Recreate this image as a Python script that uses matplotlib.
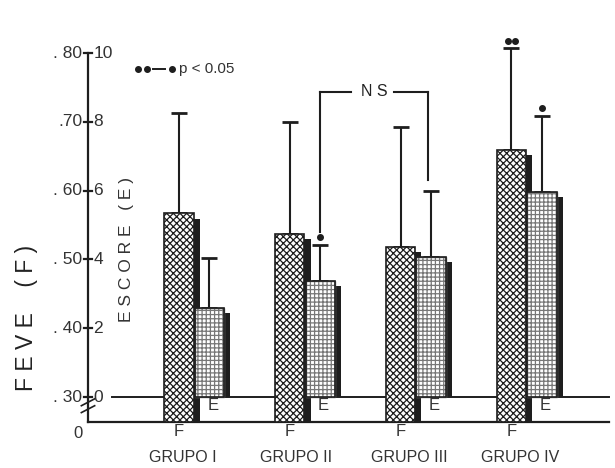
import numpy as np
import matplotlib
matplotlib.use('Agg')
import matplotlib.pyplot as plt

plt.rcParams['font.family'] = ['Liberation Sans', 'DejaVu Sans']
plt.rcParams['hatch.linewidth'] = 0.9

grupos = ['GRUPO I', 'GRUPO II', 'GRUPO III', 'GRUPO IV']
# FEVE (F) - media y desviacion
feve = [0.567, 0.537, 0.518, 0.659]
feve_err = [0.146, 0.163, 0.174, 0.148]
# ESCORE (E)
escore = [2.59, 3.37, 4.07, 5.96]
escore_err = [1.45, 1.05, 1.92, 2.21]
# significancia (numero de puntos)
sig_f = [0, 0, 0, 2]
sig_e = [0, 1, 0, 1]

e_ticks = [0, 2, 4, 6, 8, 10]
f_ticks = ['. 30', '. 40', '. 50', '. 60', '.70', '. 80']

# F pasa a la escala de E
feve_e = [(v - 0.30) / 0.05 for v in feve]
feve_err_e = [v / 0.05 for v in feve_err]

ink = '#1e1e1e'
bg = '#ebebeb'

fig = plt.figure(figsize=(6.15, 4.68), dpi=100)
fig.patch.set_facecolor('white')
ax = fig.add_axes([12 / 615, 0, 1 - 12 / 615, 1 - 10 / 468])
ax.set_facecolor(bg)
ax.set_xlim(-1.507, 3.935)
ax.set_ylim(-2.06, 11.25)
ax.axis('off')

x = np.arange(len(grupos))
w = 0.265
off = 0.275
bottom_y = -0.73
sh = 0.055

# ejes
ax_x = -0.821
ax.plot([ax_x, ax_x], [bottom_y, 10], color=ink, lw=1.6)
ax.plot([ax_x, 3.88], [bottom_y, bottom_y], color=ink, lw=1.6)
ax.plot([-0.6, 3.88], [0, 0], color=ink, lw=1.4, zorder=1)
for t, lab in zip(e_ticks, f_ticks):
    ax.plot([ax_x - 0.04, ax_x + 0.04], [t, t], color=ink, lw=1.6)
    ax.text(ax_x + 0.05, t, str(t), ha='left', va='center', fontsize=12.5, color='#333')
    ax.text(ax_x - 0.05, t, lab, ha='right', va='center', fontsize=12.5, color='#333')
# corte del eje
for dy in (-0.15, -0.35):
    ax.plot([ax_x - 0.06, ax_x + 0.06], [dy - 0.1, dy + 0.1], color=ink, lw=1.2)
ax.text(ax_x - 0.09, bottom_y - 0.1, '0', ha='center', va='top', fontsize=12, color='#333')

ax.text(-1.38, 2.3, 'F E V E    ( F )', rotation=90, ha='center', va='center',
        fontsize=16.5, color='#222')
ax.text(-0.47, 4.3, 'E S C O R E   ( E )', rotation=90, ha='center', va='center',
        fontsize=12.5, color='#333')

# barras
for i in range(len(grupos)):
    xf = x[i]
    xe = x[i] + off
    # sombras
    ax.bar(xf + w / 2 + sh / 2, feve_e[i] - 0.15 - bottom_y, sh, bottom=bottom_y,
           color=ink, zorder=2)
    ax.bar(xe + w / 2 + sh / 2, escore[i] - 0.15, sh, bottom=0, color=ink, zorder=2)
    ax.bar(xf, feve_e[i] - bottom_y, w, bottom=bottom_y, facecolor='white',
           edgecolor=ink, hatch='xxxxx', lw=1.2, zorder=3)
    ax.bar(xe, escore[i], w, bottom=0, facecolor='white', edgecolor='#777',
           hatch='++++', lw=1.0, zorder=3)
    ax.bar(xe, escore[i], w, bottom=0, facecolor='none', edgecolor=ink, lw=1.2, zorder=4)
    # error hacia arriba
    ax.errorbar([xf], [feve_e[i]], yerr=[[0], [feve_err_e[i]]], fmt='none',
                ecolor=ink, elinewidth=1.5, capsize=6, capthick=2, zorder=2)
    ax.errorbar([xe], [escore[i]], yerr=[[0], [escore_err[i]]], fmt='none',
                ecolor=ink, elinewidth=1.5, capsize=6, capthick=2, zorder=2)
    if sig_f[i]:
        top = feve_e[i] + feve_err_e[i] + 0.22
        ax.plot(xf + (np.arange(sig_f[i]) - (sig_f[i] - 1) / 2) * 0.07,
                [top] * sig_f[i], 'o', color=ink, ms=4)
    if sig_e[i]:
        top = escore[i] + escore_err[i] + 0.22
        ax.plot([xe], [top], 'o', color=ink, ms=4)
    # etiquetas
    ax.text(xe + 0.03, -0.25, 'E', ha='center', va='center', fontsize=12, color='#333')
    ax.text(xf, -1.0, 'F', ha='center', va='center', fontsize=12, color='#333')
    ax.text(xf - 0.27, -1.75, grupos[i], ha='left', va='center', fontsize=11.5, color='#333')

# NS
xl = x[1] + off
xr = x[2] + off - 0.03
ax.plot([xl, xl], [4.8, 8.87], color=ink, lw=1.5)
ax.plot([xr, xr], [6.31, 8.87], color=ink, lw=1.5)
ax.plot([xl, xl + 0.28], [8.87, 8.87], color=ink, lw=1.5)
ax.plot([xr - 0.3, xr], [8.87, 8.87], color=ink, lw=1.5)
ax.text((xl + xr) / 2, 8.87, 'N S', ha='center', va='center', fontsize=11.5, color='#222')

# leyenda
ax.plot([-0.37, -0.29], [9.53, 9.53], 'o', color=ink, ms=4)
ax.plot([-0.235, -0.13], [9.53, 9.53], color=ink, lw=1.4)
ax.plot([-0.06], [9.53], 'o', color=ink, ms=4)
ax.text(0.0, 9.53, 'p < 0.05', ha='left', va='center', fontsize=11, color='#333')

fig.savefig('out.png', dpi=100)
